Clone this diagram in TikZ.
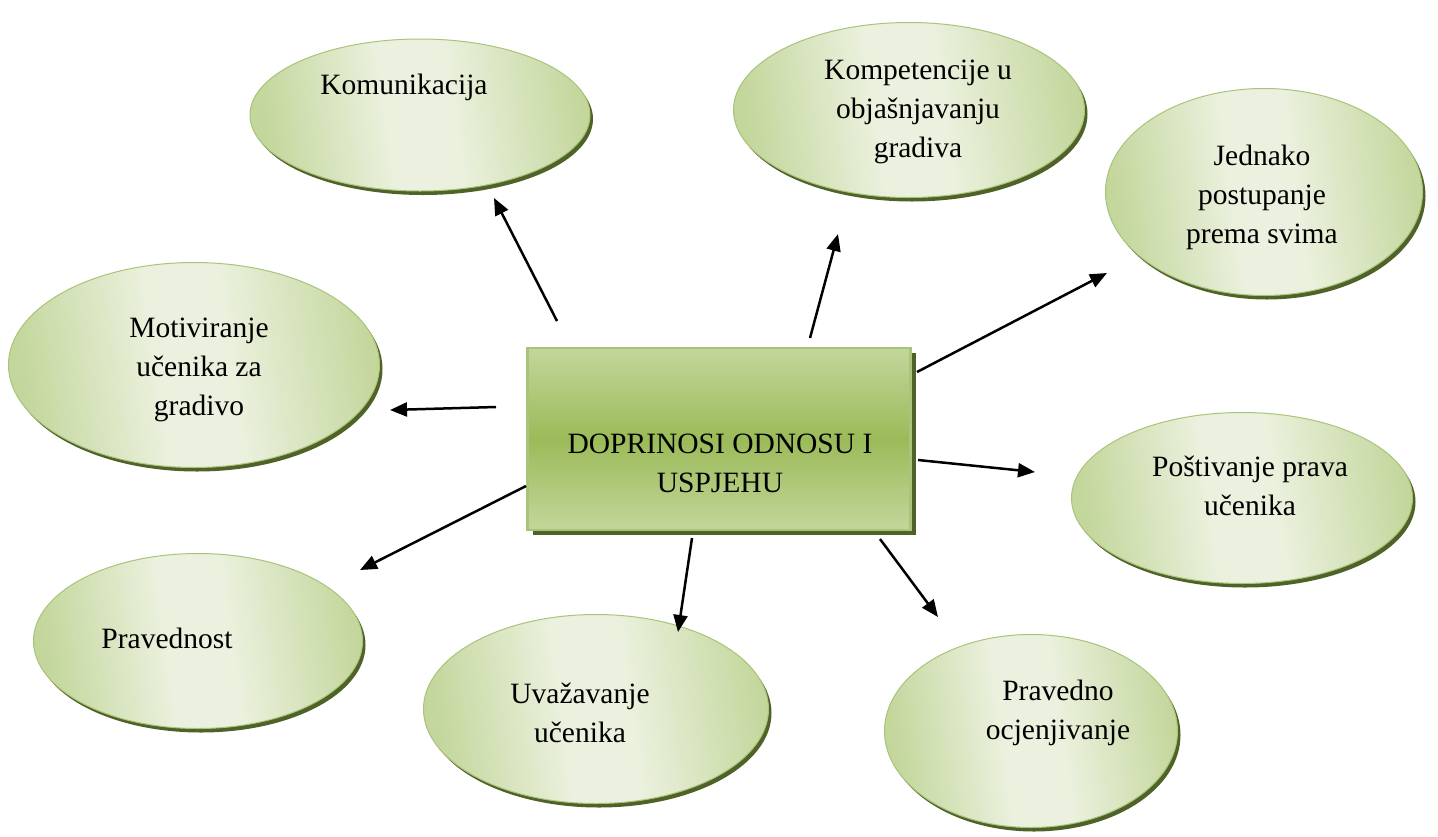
\documentclass[tikz,border=0pt]{standalone}
\usepackage{fontspec}
\setmainfont{Liberation Serif}
\usetikzlibrary{arrows.meta,shapes.geometric,shadows}
\definecolor{gLight}{HTML}{EBF1DE}
\definecolor{gMid}{HTML}{C3D69B}
\definecolor{gDark}{HTML}{9BBB59}
\definecolor{gShadow}{HTML}{4F6228}
\definecolor{gBorder}{HTML}{A9C47A}
\pgfdeclarehorizontalshading{bubshade}{100bp}{color(0bp)=(gMid); color(25bp)=(gMid); color(45bp)=(gLight); color(55bp)=(gLight); color(76bp)=(gMid); color(100bp)=(gMid)}
\begin{document}
\begin{tikzpicture}[x=1pt,y=-1pt,
  bubble/.style={ellipse, draw=gBorder, line width=1pt, shading=bubshade, shading angle=8, inner sep=0pt,
    drop shadow={shadow xshift=3pt, shadow yshift=-4pt, fill=gShadow, opacity=1}},
  hubbox/.style={rectangle, draw=gBorder, line width=2.5pt, top color=gMid, bottom color=gMid, middle color=gDark, inner sep=0pt,
    drop shadow={shadow xshift=5pt, shadow yshift=-5pt, fill=gShadow, opacity=1}},
  lbl/.style={align=center, font=\fontsize{29.5}{39}\selectfont, inner sep=0pt, text=black},
  arr/.style={line width=2.5pt, -{Triangle[length=17pt,width=14pt]}}]
\useasboundingbox[fill=white] (0,0) rectangle (1438,836);

% ellipses
\node[bubble, minimum width=340pt, minimum height=152pt] (kom) at (420,115) {};
\node[bubble, minimum width=351pt, minimum height=175pt] (kmp) at (909,110) {};
\node[bubble, minimum width=317pt, minimum height=207pt] (jed) at (1264,192) {};
\node[bubble, minimum width=371pt, minimum height=205pt] (mot) at (194,365) {};
\node[bubble, minimum width=341pt, minimum height=171pt] (pos) at (1242,498) {};
\node[bubble, minimum width=329pt, minimum height=175pt] (prv) at (198,641) {};
\node[bubble, minimum width=345pt, minimum height=189pt] (uva) at (596,709) {};
\node[bubble, minimum width=293pt, minimum height=193pt] (poc) at (1031,731) {};

% hub
\node[hubbox, minimum width=383pt, minimum height=182pt] (hub) at (719,439) {};

% labels
\node[lbl] (komT) at (404,87) {Komunikacija};
\node[lbl] (kmpT) at (918,112) {Kompetencije u\\objašnjavanju\\gradiva};
\node[lbl] (jedT) at (1262,197) {Jednako\\postupanje\\prema svima};
\node[lbl] (motT) at (199,370) {Motiviranje\\učenika za\\gradivo};
\node[lbl] (posT) at (1250,485.5) {Poštivanje prava\\učenika};
\node[lbl] (prvT) at (167,638) {Pravednost};
\node[lbl] (uvaT) at (580,713) {Uvažavanje\\učenika};
\node[lbl] (pocT) at (1058,712.5) {Pravedno\\ocjenjivanje};
\node[lbl] (hubT) at (720,463.5) {DOPRINOSI ODNOSU I\\USPJEHU};

% arrow end points
\coordinate (aKomS) at (557,321);  \coordinate (aKomE) at (494,198);
\coordinate (aKmpS) at (810,338);  \coordinate (aKmpE) at (838,234);
\coordinate (aJedS) at (917,372);  \coordinate (aJedE) at (1107,273);
\coordinate (aMotS) at (496,407);  \coordinate (aMotE) at (390,410);
\coordinate (aPosS) at (918,460);  \coordinate (aPosE) at (1035,472);
\coordinate (aPocS) at (880,539);  \coordinate (aPocE) at (938,617);
\coordinate (aUvaS) at (692,538);  \coordinate (aUvaE) at (678,632);
\coordinate (aPrvS) at (526,486);  \coordinate (aPrvE) at (360,570);

\draw[arr] (aKomS) -- (aKomE);
\draw[arr] (aKmpS) -- (aKmpE);
\draw[arr] (aJedS) -- (aJedE);
\draw[arr] (aMotS) -- (aMotE);
\draw[arr] (aPosS) -- (aPosE);
\draw[arr] (aPocS) -- (aPocE);
\draw[arr] (aUvaS) -- (aUvaE);
\draw[arr] (aPrvS) -- (aPrvE);
\end{tikzpicture}
\end{document}
